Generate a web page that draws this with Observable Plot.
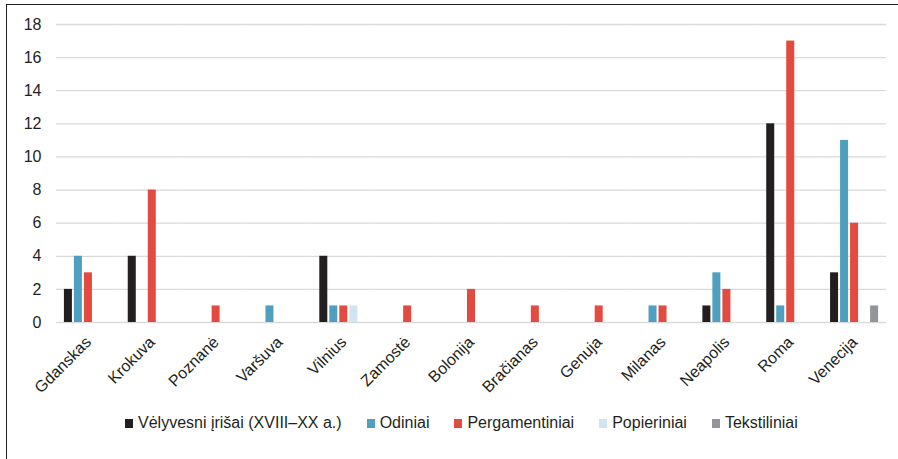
<!DOCTYPE html>
<html>
<head>
<meta charset="utf-8">
<script src="https://cdn.jsdelivr.net/npm/d3@7"></script>
<script src="https://cdn.jsdelivr.net/npm/@observablehq/plot@0.6"></script>
<style>
  body { margin: 0; background: #fff; font-family: "Liberation Sans", Arial, sans-serif; }
  #frame { position: absolute; left: 6px; top: 4px; width: 892px; height: 455px;
           border-left: 1.5px solid #231f20; border-top: 1.5px solid #231f20; box-sizing: border-box; }
  #chart { position: absolute; left: 0; top: 0; }
  #legend { position: absolute; top: 414px; left: 125px; display: flex; align-items: center;
            font-size: 16px; color: #231f20; white-space: nowrap; }
  .item { display: flex; align-items: center; margin-right: 25px; }
  .sw { width: 8px; height: 9px; margin-right: 5px; }
</style>
</head>
<body>
<div id="frame"></div>
<div id="chart"></div>
<div id="legend"></div>
<script>
const cities = ["Gdanskas", "Krokuva", "Poznanė", "Varšuva", "Vilnius", "Zamostė", "Bolonija", "Bračianas", "Genuja", "Milanas", "Neapolis", "Roma", "Venecija"];
const seriesNames = ["Vėlyvesni įrišai (XVIII–XX a.)", "Odiniai", "Pergamentiniai", "Popieriniai", "Tekstiliniai"];
const seriesColors = ["#231f20", "#4f9fbf", "#e34a40", "#cfe5ef", "#939598"];
const velyvesni     = [2, 4, 0, 0, 4, 0, 0, 0, 0, 0, 1, 12, 3];
const odiniai       = [4, 0, 0, 1, 1, 0, 0, 0, 0, 1, 3, 1, 11];
const pergamentiniai= [3, 8, 1, 0, 1, 1, 2, 1, 1, 1, 2, 17, 6];
const popieriniai   = [0, 0, 0, 0, 1, 0, 0, 0, 0, 0, 0, 0, 0];
const tekstiliniai  = [0, 0, 0, 0, 0, 0, 0, 0, 0, 0, 0, 0, 1];
const yTicks = [0, 2, 4, 6, 8, 10, 12, 14, 16, 18];

const seriesValues = [velyvesni, odiniai, pergamentiniai, popieriniai, tekstiliniai];
const data = [];
cities.forEach((c, i) => {
  seriesNames.forEach((s, j) => {
    const v = seriesValues[j][i];
    if (v > 0) data.push({city: c, series: s, value: v});
  });
});

const chart = Plot.plot({
  width: 898,
  height: 400,
  marginTop: 24,
  marginBottom: 78,
  marginLeft: 56,
  marginRight: 12,
  style: {fontFamily: "'Liberation Sans', Arial, sans-serif", fontSize: "16px", color: "#231f20", background: "transparent"},
  fx: {domain: cities, padding: 0, round: false, label: null},
  x: {domain: seriesNames, paddingInner: 0.2, paddingOuter: 0.79, round: false, axis: null},
  y: {domain: [0, 18], label: null},
  color: {domain: seriesNames, range: seriesColors},
  marks: [
    Plot.ruleY(yTicks, {stroke: "#d9d9d9", strokeWidth: 1.3}),
    Plot.barY(data, {fx: "city", x: "series", y: "value", fill: "series"}),
    Plot.axisY({ticks: yTicks, tickSize: 0, tickPadding: 15, fontSize: 16, label: null}),
    Plot.axisFx({anchor: "bottom", tickRotate: -45, tickSize: 0, tickPadding: 17, dx: 0, fontSize: 16, label: null})
  ]
});
document.getElementById("chart").appendChild(chart);

const legend = document.getElementById("legend");
seriesNames.forEach((s, j) => {
  const item = document.createElement("div");
  item.className = "item";
  const sw = document.createElement("div");
  sw.className = "sw";
  sw.style.background = seriesColors[j];
  const t = document.createElement("span");
  t.textContent = s;
  item.appendChild(sw);
  item.appendChild(t);
  legend.appendChild(item);
});
</script>
</body>
</html>
